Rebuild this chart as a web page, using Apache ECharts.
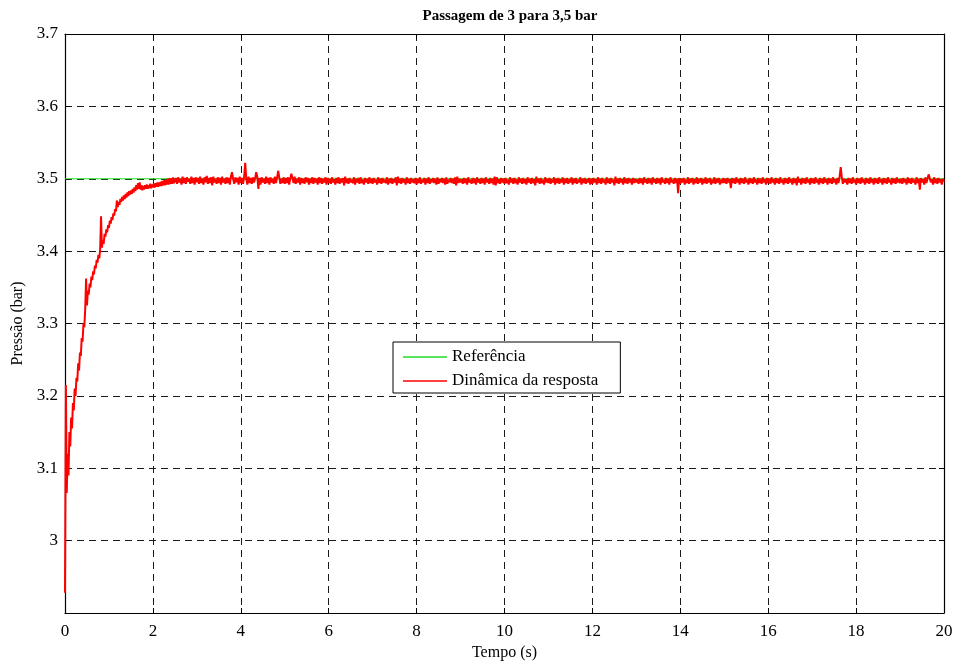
<!DOCTYPE html>
<html>
<head>
<meta charset="utf-8">
<script src="https://cdn.jsdelivr.net/npm/echarts@6/dist/echarts.min.js"></script>
<style>
  html, body { margin: 0; padding: 0; background: #fff; }
  #chart { width: 956px; height: 663px; }
</style>
</head>
<body>
<div id="chart"></div>
<script>
// Pressure step from 3 to 3.5 bar: setpoint and measured response.

const refValue = 3.5;                 // setpoint (bar)
const tEnd = 20;                      // simulation length (s)

// Start of the response, sampled every 0.02 s from t = 0
const transientStep = 0.02;
const transientStart = 0;
const transientValues = [
  2.928, 3.215, 3.066, 3.12, 3.09, 3.15, 3.13, 3.17, 3.155, 3.19,
  3.18, 3.21, 3.2, 3.225, 3.22, 3.245, 3.235, 3.26, 3.255, 3.28,
  3.275, 3.30, 3.295, 3.32, 3.362, 3.325, 3.345, 3.34, 3.355, 3.35,
  3.365, 3.36, 3.372, 3.368, 3.38, 3.376, 3.388, 3.384, 3.395, 3.39,
  3.402, 3.448, 3.405, 3.415, 3.41, 3.424, 3.42, 3.43, 3.426, 3.436,
  3.432, 3.442, 3.438, 3.447, 3.443, 3.452, 3.449, 3.458, 3.455, 3.47,
  3.461, 3.468, 3.464, 3.472, 3.468, 3.475, 3.47, 3.477, 3.472, 3.479,
  3.474, 3.481, 3.476, 3.483, 3.478, 3.484, 3.479, 3.486, 3.481, 3.488,
  3.483, 3.491, 3.485, 3.494, 3.486, 3.495, 3.485, 3.491, 3.484, 3.49,
  3.485, 3.491, 3.486, 3.492, 3.486, 3.491, 3.487, 3.493, 3.487, 3.492,
  3.488, 3.493, 3.488, 3.494, 3.489, 3.495, 3.489, 3.495, 3.49, 3.496,
  3.49, 3.497, 3.491, 3.498, 3.491, 3.499, 3.492, 3.5, 3.492, 3.501,
  3.493, 3.501, 3.493, 3.502, 3.494
];

// Settled part, sampled every 0.025 s from t = 2.5 s to 20 s
const steadyStep = 0.025;
const steadyStart = 2.5;
const steadyValues = [
  // 2.5 – 2.975 s
  3.494, 3.501, 3.493, 3.502, 3.495, 3.500, 3.492, 3.503, 3.494, 3.501, 3.493, 3.502, 3.496, 3.500, 3.493, 3.503, 3.494, 3.501, 3.492, 3.502,
  // 3 s
  3.495, 3.501, 3.493, 3.503, 3.494, 3.500, 3.492, 3.502, 3.495, 3.504, 3.493, 3.501, 3.494, 3.502, 3.491, 3.503, 3.495, 3.500, 3.493, 3.502,
  3.494, 3.501, 3.492, 3.503, 3.495, 3.500, 3.493, 3.502, 3.494, 3.501, 3.492, 3.503, 3.509, 3.500, 3.493, 3.502, 3.495, 3.501, 3.492, 3.503,
  // 4 s
  3.494, 3.501, 3.493, 3.502, 3.522, 3.500, 3.492, 3.503, 3.494, 3.501, 3.493, 3.502, 3.495, 3.500, 3.509, 3.503, 3.486, 3.501, 3.492, 3.502,
  3.495, 3.500, 3.493, 3.503, 3.494, 3.501, 3.492, 3.502, 3.495, 3.500, 3.493, 3.503, 3.494, 3.501, 3.511, 3.502, 3.493, 3.500, 3.494, 3.502,
  // 5 s
  3.493, 3.501, 3.494, 3.502, 3.492, 3.500, 3.507, 3.501, 3.494, 3.503, 3.493, 3.500, 3.495, 3.502, 3.492, 3.501, 3.494, 3.500, 3.493, 3.502,
  3.495, 3.501, 3.492, 3.500, 3.494, 3.502, 3.493, 3.501, 3.495, 3.500, 3.492, 3.502, 3.494, 3.501, 3.493, 3.500, 3.495, 3.502, 3.492, 3.501,
  // 6 s
  3.494, 3.500, 3.493, 3.502, 3.495, 3.499, 3.492, 3.501, 3.494, 3.502, 3.493, 3.500, 3.495, 3.501, 3.491, 3.503, 3.494, 3.500, 3.493, 3.501,
  3.495, 3.499, 3.494, 3.502, 3.492, 3.500, 3.495, 3.501, 3.493, 3.502, 3.494, 3.499, 3.492, 3.501, 3.495, 3.500, 3.493, 3.502, 3.494, 3.500,
  // 7 s
  3.493, 3.501, 3.495, 3.499, 3.492, 3.502, 3.494, 3.500, 3.493, 3.501, 3.495, 3.499, 3.494, 3.502, 3.492, 3.500, 3.494, 3.501, 3.493, 3.499,
  3.495, 3.502, 3.491, 3.503, 3.494, 3.500, 3.493, 3.501, 3.495, 3.499, 3.492, 3.502, 3.494, 3.500, 3.493, 3.501, 3.495, 3.499, 3.494, 3.501,
  // 8 s
  3.492, 3.500, 3.494, 3.502, 3.493, 3.499, 3.495, 3.501, 3.492, 3.500, 3.494, 3.502, 3.493, 3.499, 3.495, 3.501, 3.494, 3.500, 3.492, 3.502,
  3.493, 3.499, 3.495, 3.501, 3.494, 3.500, 3.492, 3.502, 3.493, 3.499, 3.495, 3.501, 3.494, 3.500, 3.493, 3.502, 3.491, 3.503, 3.494, 3.500,
  // 9 s
  3.495, 3.499, 3.493, 3.501, 3.494, 3.500, 3.492, 3.502, 3.495, 3.499, 3.493, 3.501, 3.494, 3.500, 3.492, 3.502, 3.495, 3.499, 3.493, 3.501,
  3.494, 3.500, 3.492, 3.502, 3.495, 3.499, 3.493, 3.501, 3.494, 3.500, 3.492, 3.503, 3.491, 3.502, 3.494, 3.499, 3.493, 3.501, 3.495, 3.500,
  // 10 s
  3.493, 3.501, 3.494, 3.499, 3.492, 3.502, 3.495, 3.500, 3.493, 3.501, 3.494, 3.499, 3.492, 3.502, 3.495, 3.500, 3.493, 3.501, 3.494, 3.499,
  3.492, 3.502, 3.495, 3.500, 3.493, 3.501, 3.494, 3.499, 3.491, 3.503, 3.495, 3.500, 3.493, 3.501, 3.494, 3.499, 3.492, 3.502, 3.495, 3.500,
  // 11 s
  3.494, 3.501, 3.493, 3.499, 3.495, 3.502, 3.492, 3.500, 3.494, 3.501, 3.493, 3.499, 3.495, 3.502, 3.492, 3.500, 3.494, 3.501, 3.493, 3.499,
  3.495, 3.502, 3.492, 3.500, 3.494, 3.501, 3.493, 3.499, 3.495, 3.502, 3.492, 3.500, 3.494, 3.501, 3.493, 3.499, 3.495, 3.501, 3.492, 3.500,
  // 12 s
  3.493, 3.501, 3.495, 3.499, 3.492, 3.502, 3.494, 3.500, 3.493, 3.501, 3.495, 3.499, 3.492, 3.502, 3.494, 3.500, 3.493, 3.501, 3.495, 3.499,
  3.491, 3.503, 3.494, 3.500, 3.493, 3.501, 3.495, 3.499, 3.492, 3.502, 3.494, 3.500, 3.493, 3.501, 3.495, 3.499, 3.492, 3.501, 3.494, 3.500,
  // 13 s
  3.495, 3.499, 3.493, 3.501, 3.494, 3.500, 3.492, 3.502, 3.495, 3.499, 3.493, 3.501, 3.494, 3.500, 3.492, 3.502, 3.495, 3.499, 3.493, 3.501,
  3.494, 3.500, 3.492, 3.502, 3.495, 3.499, 3.493, 3.501, 3.494, 3.500, 3.492, 3.502, 3.495, 3.499, 3.493, 3.501, 3.494, 3.500, 3.480, 3.501,
  // 14 s
  3.493, 3.500, 3.495, 3.501, 3.492, 3.499, 3.494, 3.502, 3.493, 3.500, 3.495, 3.501, 3.492, 3.499, 3.494, 3.502, 3.493, 3.500, 3.495, 3.501,
  3.492, 3.499, 3.494, 3.502, 3.493, 3.500, 3.495, 3.501, 3.492, 3.499, 3.494, 3.502, 3.493, 3.500, 3.495, 3.501, 3.492, 3.499, 3.494, 3.501,
  // 15 s
  3.494, 3.500, 3.493, 3.501, 3.495, 3.499, 3.487, 3.501, 3.494, 3.500, 3.493, 3.502, 3.495, 3.499, 3.492, 3.501, 3.494, 3.500, 3.493, 3.502,
  3.495, 3.499, 3.492, 3.501, 3.494, 3.500, 3.493, 3.502, 3.495, 3.499, 3.492, 3.501, 3.494, 3.500, 3.493, 3.502, 3.495, 3.499, 3.492, 3.501,
  // 16 s
  3.494, 3.500, 3.493, 3.502, 3.495, 3.499, 3.492, 3.501, 3.494, 3.500, 3.493, 3.502, 3.495, 3.499, 3.492, 3.501, 3.494, 3.500, 3.493, 3.502,
  3.495, 3.499, 3.492, 3.501, 3.494, 3.500, 3.491, 3.503, 3.495, 3.499, 3.492, 3.501, 3.494, 3.500, 3.493, 3.502, 3.495, 3.499, 3.492, 3.501,
  // 17 s
  3.494, 3.500, 3.493, 3.502, 3.495, 3.499, 3.492, 3.501, 3.494, 3.500, 3.493, 3.502, 3.495, 3.499, 3.492, 3.501, 3.494, 3.500, 3.493, 3.502,
  3.495, 3.499, 3.492, 3.501, 3.494, 3.503, 3.516, 3.502, 3.493, 3.500, 3.495, 3.499, 3.492, 3.501, 3.494, 3.500, 3.493, 3.502, 3.495, 3.499,
  // 18 s
  3.492, 3.501, 3.494, 3.500, 3.493, 3.502, 3.495, 3.499, 3.492, 3.501, 3.494, 3.500, 3.493, 3.502, 3.495, 3.499, 3.492, 3.501, 3.494, 3.500,
  3.493, 3.502, 3.495, 3.499, 3.492, 3.501, 3.494, 3.500, 3.493, 3.502, 3.495, 3.499, 3.492, 3.501, 3.494, 3.500, 3.493, 3.502, 3.495, 3.499,
  // 19 s
  3.494, 3.500, 3.493, 3.501, 3.495, 3.499, 3.492, 3.502, 3.494, 3.500, 3.493, 3.501, 3.495, 3.499, 3.492, 3.502, 3.494, 3.500, 3.485, 3.501,
  3.495, 3.499, 3.492, 3.502, 3.494, 3.500, 3.506, 3.501, 3.495, 3.499, 3.492, 3.502, 3.494, 3.500, 3.493, 3.501, 3.495, 3.499, 3.492, 3.500,
  // 20 s
  3.496
];

// Axis ranges and ticks
const xMin = 0, xMax = 20, xInterval = 2;
const yMin = 2.9, yMax = 3.7, yInterval = 0.1;

const seriesNames = ['Referência', 'Dinâmica da resposta'];
const seriesColors = ['#22dd22', '#ff0000'];

// Build [time, value] pairs for the response
const responseData = [];
transientValues.forEach((v, i) => {
  const t = +(transientStart + i * transientStep).toFixed(4);
  if (t < steadyStart) responseData.push([t, v]);
});
steadyValues.forEach((v, i) => {
  responseData.push([+(steadyStart + i * steadyStep).toFixed(4), v]);
});
const referenceData = [[0, refValue], [tEnd, refValue]];

const serif = 'Liberation Serif';
const gridLine = { show: true, lineStyle: { color: '#1a1a1a', type: [7, 5], width: 1 } };
const boxLine = { show: true, onZero: false, lineStyle: { color: '#000', width: 1.2 } };
const tick = { show: true, inside: true, length: 5, lineStyle: { color: '#000' } };

const chart = echarts.init(document.getElementById('chart'), null, { renderer: 'canvas' });
chart.setOption({
  animation: false,
  backgroundColor: '#fff',
  title: {
    text: 'Passagem de 3 para 3,5 bar',
    left: 505,
    textAlign: 'center',
    top: 4,
    textStyle: { fontFamily: serif, fontSize: 15, fontWeight: 'bold', color: '#000' }
  },
  grid: { left: 65, right: 12, top: 34, bottom: 50, containLabel: false, outerBoundsMode: 'none' },
  legend: {
    left: 393,
    top: 342,
    orient: 'vertical',
    backgroundColor: '#fff',
    borderColor: '#000',
    borderWidth: 1,
    padding: [6, 22, 3, 10],
    itemGap: 6,
    itemWidth: 44,
    itemHeight: 1.5,
    textStyle: { fontFamily: serif, fontSize: 17, color: '#000', lineHeight: 18 },
    data: seriesNames.map((n, i) => ({ name: n, icon: 'rect', itemStyle: { color: seriesColors[i] } }))
  },
  xAxis: [
    {
      type: 'value', min: xMin, max: xMax, interval: xInterval,
      position: 'bottom',
      name: 'Tempo (s)', nameLocation: 'middle', nameGap: 29,
      nameTextStyle: { fontFamily: serif, fontSize: 16, color: '#000' },
      axisLine: boxLine, axisTick: tick,
      axisLabel: { fontFamily: serif, fontSize: 17, color: '#000', margin: 10 },
      splitLine: gridLine
    },
    {
      type: 'value', min: xMin, max: xMax, interval: xInterval,
      position: 'top',
      axisLine: boxLine, axisTick: tick, axisLabel: { show: false }, splitLine: { show: false }
    }
  ],
  yAxis: [
    {
      type: 'value', min: yMin, max: yMax, interval: yInterval,
      position: 'left',
      name: 'Pressão (bar)', nameLocation: 'middle', nameGap: 38, nameRotate: 90,
      nameTextStyle: { fontFamily: serif, fontSize: 16, color: '#000' },
      axisLine: boxLine, axisTick: tick,
      axisLabel: {
        fontFamily: serif, fontSize: 17, color: '#000', margin: 7,
        showMinLabel: false,
        formatter: v => String(Math.round(v * 10) / 10)
      },
      splitLine: gridLine
    },
    {
      type: 'value', min: yMin, max: yMax, interval: yInterval,
      position: 'right',
      axisLine: boxLine, axisTick: tick, axisLabel: { show: false }, splitLine: { show: false }
    }
  ],
  series: [
    {
      name: seriesNames[0], type: 'line', data: referenceData,
      xAxisIndex: 0, yAxisIndex: 0,
      symbol: 'none', silent: true,
      lineStyle: { color: seriesColors[0], width: 1.2 },
      itemStyle: { color: seriesColors[0] }
    },
    {
      name: seriesNames[1], type: 'line', data: responseData,
      xAxisIndex: 0, yAxisIndex: 0,
      symbol: 'none', silent: true,
      lineStyle: { color: seriesColors[1], width: 2 },
      itemStyle: { color: seriesColors[1] }
    }
  ]
});
</script>
</body>
</html>
